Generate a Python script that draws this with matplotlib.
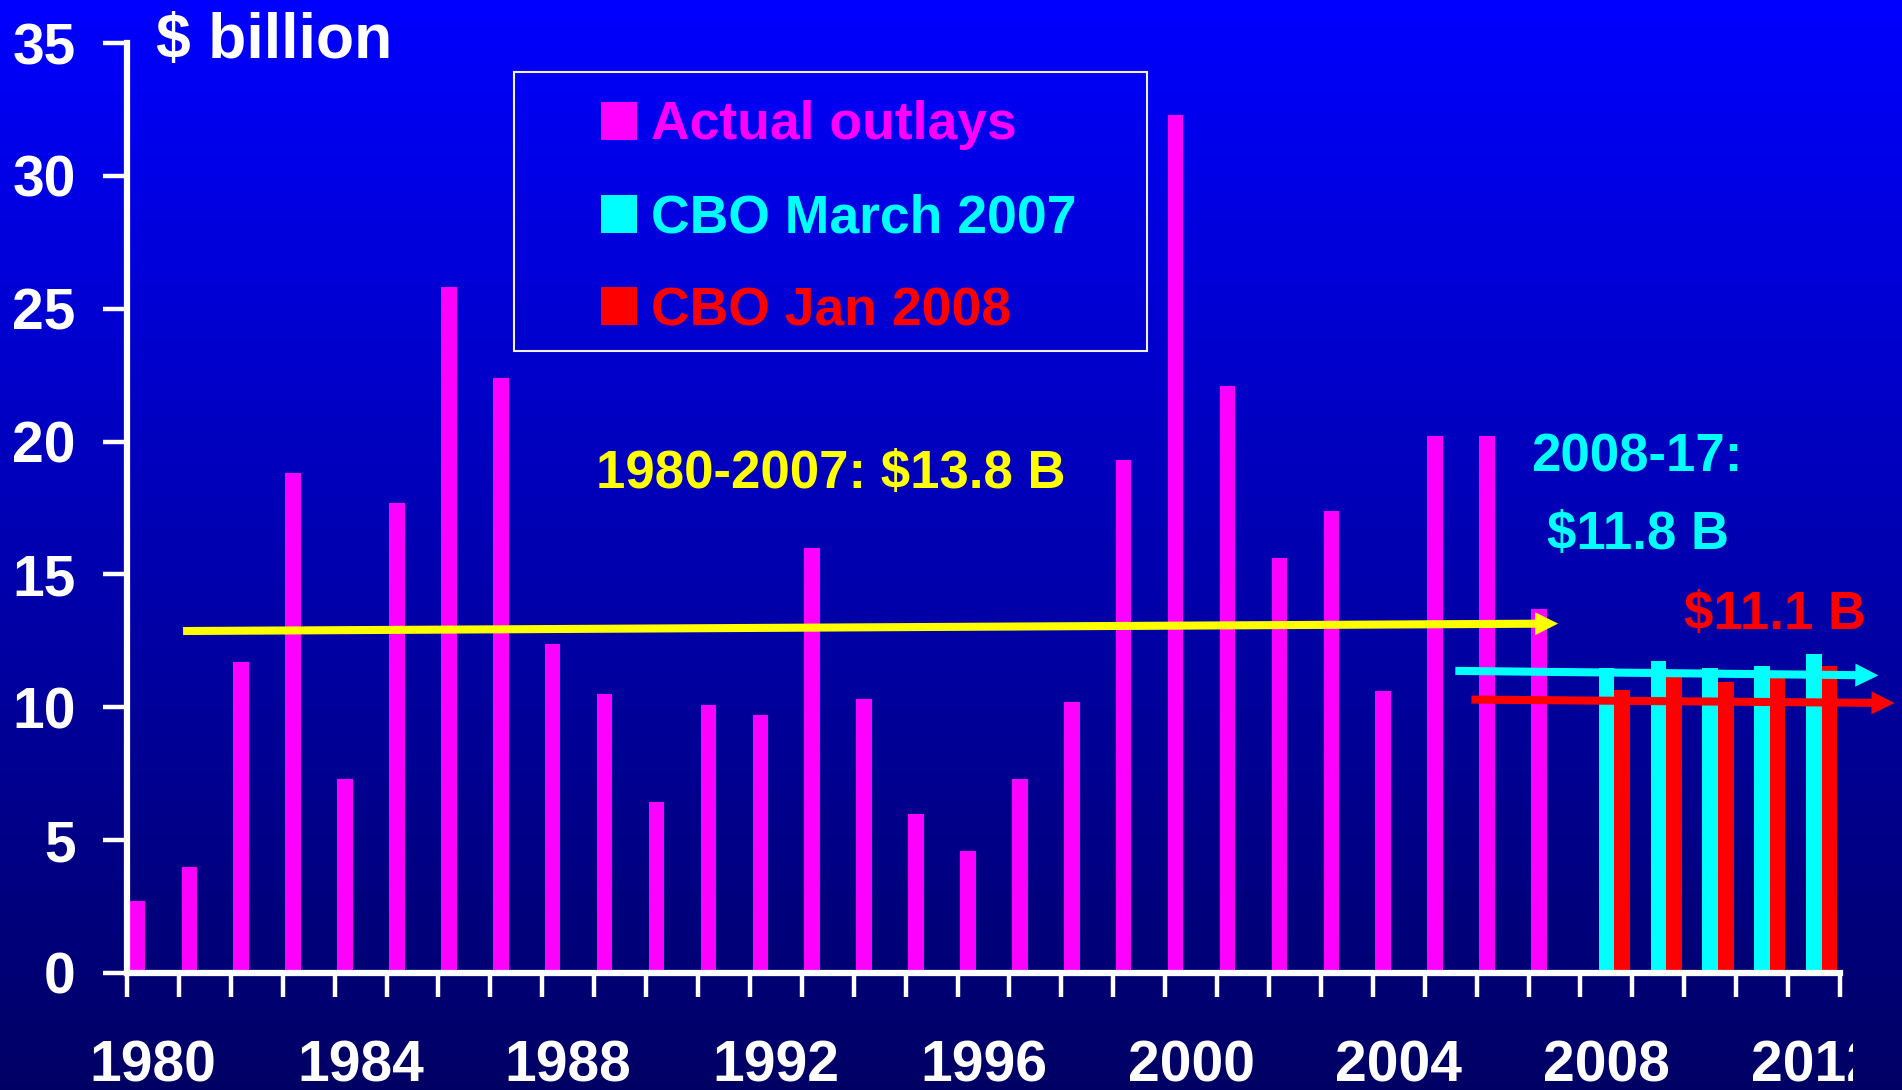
import numpy as np
import matplotlib
matplotlib.use("Agg")
import matplotlib.pyplot as plt
from matplotlib.patches import FancyArrowPatch, ArrowStyle, Rectangle
from matplotlib.transforms import Bbox

# ---------------- data ----------------
years = list(range(1980, 2013))
actual_years = list(range(1980, 2008))
actual_outlays = [2.7, 4.0, 11.7, 18.8, 7.3, 17.7, 25.8, 22.4, 12.4, 10.5,
                  6.45, 10.1, 9.7, 16.0, 10.3, 6.0, 4.6, 7.3, 10.2, 19.3,
                  32.3, 22.1, 15.6, 17.4, 10.6, 20.2, 20.2, 13.7]
proj_years = [2008, 2009, 2010, 2011, 2012]
cbo_march_2007 = [11.48, 11.74, 11.48, 11.55, 12.0]
cbo_jan_2008 = [10.65, 11.14, 10.95, 11.1, 11.55]
series_labels = ["Actual outlays", "CBO March 2007", "CBO Jan 2008"]
xtick_years = [1980, 1984, 1988, 1992, 1996, 2000, 2004, 2008, 2012]
yticks = [0, 5, 10, 15, 20, 25, 30, 35]

# average trend arrows: (start year, start value, end year, end value)
avg_arrow_yellow = (1980.58, 12.87, 2007.07, 13.15)
avg_arrow_cyan = (2005.09, 11.37, 2013.24, 11.20)
avg_arrow_red = (2005.40, 10.29, 2013.55, 10.16)

# ---------------- style ----------------
MAGENTA, CYAN, RED, YELLOW = "#FF00FF", "#00FFFF", "#FF0000", "#FFFF00"
W, H = 1902, 1090
plt.rcParams["font.family"] = ["Liberation Sans", "DejaVu Sans"]
plt.rcParams["font.weight"] = "bold"

def fx(px):
    return px / W

def fy(py):
    return 1 - py / H

fig = plt.figure(figsize=(W / 100, H / 100), dpi=100)

# background gradient
bg = fig.add_axes([0, 0, 1, 1], zorder=-10)
t = np.linspace(0, 1, 512)[:, None]
top = np.array([0, 0, 255]) / 255
bot = np.array([0, 0, 100]) / 255
grad = top[None, None, :] * (1 - t[:, :, None]) + bot[None, None, :] * t[:, :, None]
grad = np.repeat(grad, 2, axis=1)
bg.imshow(grad, aspect="auto", extent=[0, 1, 0, 1], interpolation="bilinear")
bg.axis("off")

ax = fig.add_axes([fx(127), fy(973), fx(1840) - fx(127), fy(43) - fy(973)])
ax.set_facecolor("none")

idx = lambda ys: np.array(ys) - years[0]
bw = 0.3
b1 = ax.bar(idx(actual_years) - bw, actual_outlays, width=bw, color=MAGENTA, lw=0, zorder=3)
b2 = ax.bar(idx(proj_years), cbo_march_2007, width=bw, color=CYAN, lw=0, zorder=3)
b3 = ax.bar(idx(proj_years) + bw, cbo_jan_2008, width=bw, color=RED, lw=0, zorder=3)

for (xa, ya, xb, yb), c in [(avg_arrow_yellow, YELLOW), (avg_arrow_cyan, CYAN), (avg_arrow_red, RED)]:
    arr = FancyArrowPatch(posA=(xa - years[0], ya), posB=(xb - years[0], yb),
                          arrowstyle=ArrowStyle.Simple(head_length=1.0, head_width=1.0, tail_width=0.35),
                          mutation_scale=16.6, color=c, lw=0, shrinkA=0, shrinkB=0,
                          transform=ax.transData, clip_on=False, zorder=5)
    ax.add_patch(arr)

ax.set_xlim(-0.5, len(years) - 0.5)
ax.set_ylim(0, 35)

for s in ["top", "right"]:
    ax.spines[s].set_visible(False)
for s in ["left", "bottom"]:
    ax.spines[s].set_color("white")
    ax.spines[s].set_linewidth(4.5)
    ax.spines[s].set_zorder(6)

ax.set_xticks(np.arange(-0.5, len(years), 1))
ax.set_xticks(idx(xtick_years), minor=True)
ax.set_xticklabels([str(y) for y in xtick_years], minor=True)
ax.tick_params(axis="x", which="major", length=17, width=3.2, color="white",
               direction="out", labelbottom=False)
ax.tick_params(axis="x", which="minor", length=0, pad=48, labelsize=41, labelcolor="white")
ax.set_yticks(yticks)
ax.set_yticklabels([str(v) for v in yticks])
ax.tick_params(axis="y", length=17, width=3.2, color="white", direction="out",
               pad=20, labelsize=41, labelcolor="white")

# texts
fig.text(fx(156), fy(58), "$ billion", color="white", fontsize=45, fontweight="bold",
         ha="left", va="baseline")
fig.text(fx(831), fy(488), "1980-2007: $13.8 B", color=YELLOW, fontsize=38,
         fontweight="bold", ha="center", va="baseline")
fig.text(fx(1637), fy(472), "2008-17:", color=CYAN, fontsize=38,
         fontweight="bold", ha="center", va="baseline")
fig.text(fx(1638), fy(549), "$11.8 B", color=CYAN, fontsize=38,
         fontweight="bold", ha="center", va="baseline")
fig.text(fx(1775), fy(629), "$11.1 B", color=RED, fontsize=38,
         fontweight="bold", ha="center", va="baseline")

# legend
leg = ax.legend(handles=[b1, b2, b3], labels=series_labels, loc="upper left",
                bbox_to_anchor=(fx(601), fy(100.5)), bbox_transform=fig.transFigure,
                frameon=False, prop={"family": "Liberation Sans", "weight": "bold", "size": 38.5},
                handlelength=0.664, handleheight=0.72, handletextpad=0.28,
                labelspacing=0.8, borderpad=0, borderaxespad=0)
for txt, c in zip(leg.get_texts(), [MAGENTA, CYAN, RED]):
    txt.set_color(c)
fig.add_artist(Rectangle((fx(514), fy(351)), fx(1147) - fx(514), fy(72) - fy(351),
                         transform=fig.transFigure, fill=False, ec="#F0F0F0", lw=1.5))

fig.canvas.draw()
clip = Bbox([[0, 0], [1853, H]])
for tk in ax.xaxis.get_minor_ticks():
    if tk.label1.get_text() == "2012":
        tk.label1.set_clip_box(clip)
        tk.label1.set_clip_on(True)

fig.savefig("out.png", dpi=100)
